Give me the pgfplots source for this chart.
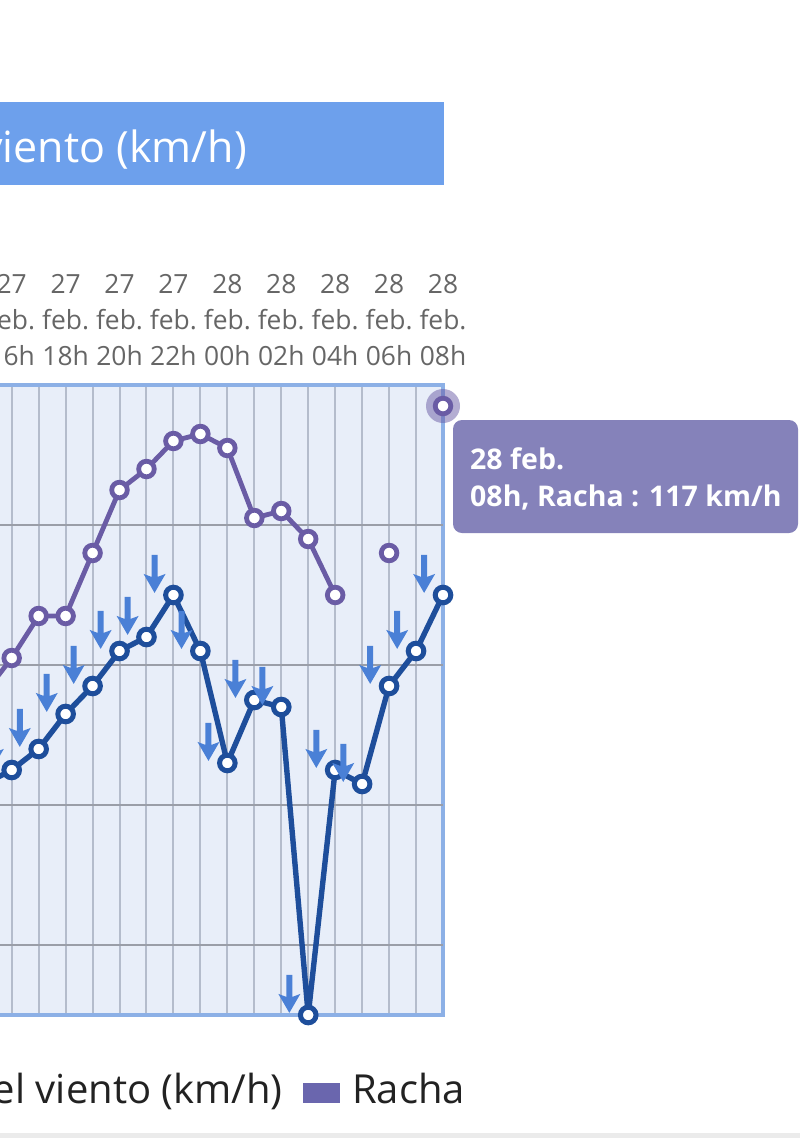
\documentclass[border=0pt]{standalone}
\usepackage{fontspec}
\setmainfont{Open Sans}
\usepackage{pgfplots}
\pgfplotsset{compat=1.18}
\usepackage{pgfplotstable}

\definecolor{velc}{HTML}{1E4E9B}
\definecolor{rachac}{HTML}{6A5CA5}
\definecolor{arrowc}{HTML}{4A80D6}
\definecolor{bannerc}{HTML}{6DA0EC}
\definecolor{tipc}{HTML}{8582BA}
\definecolor{swatchc}{HTML}{6A66AE}
\definecolor{bgc}{HTML}{E8EEF9}
\definecolor{vgridc}{HTML}{B4BCCC}
\definecolor{hgridc}{HTML}{9A9EA8}
\definecolor{borderc}{HTML}{8CB0E6}
\definecolor{tickc}{HTML}{666666}
\definecolor{legc}{HTML}{222222}

\pgfdeclareplotmark{windarrow}{%
  \pgfpathmoveto{\pgfpoint{0bp}{0bp}}%
  \pgfpathlineto{\pgfpoint{-11bp}{19bp}}%
  \pgfpathlineto{\pgfpoint{-3bp}{16bp}}%
  \pgfpathlineto{\pgfpoint{-3bp}{38bp}}%
  \pgfpathlineto{\pgfpoint{3bp}{38bp}}%
  \pgfpathlineto{\pgfpoint{3bp}{16bp}}%
  \pgfpathlineto{\pgfpoint{11bp}{19bp}}%
  \pgfpathclose
  \pgfusepathqfill}

\pgfplotstableread{
h vel racha
15 63 76
16 65 81
17 68 87
18 73 87
19 77 96
20 82 105
21 84 108
22 90 112
23 82 113
24 66 111
25 75 101
26 74 102
27 30 98
28 65 90
29 63 nan
30 77 96
31 82 nan
32 90 117
}\windtable

\begin{document}
\begin{tikzpicture}
% title banner
\fill[bannerc] (-5bp,-102bp) rectangle (444bp,-185bp);
\node[anchor=base east, text=white, inner sep=0pt,
      font=\fontsize{43bp}{50bp}\selectfont] at (247bp,-162bp) {Velocidad del viento (km/h)};

\begin{axis}[
  at={(-15.26bp,-1015bp)}, anchor=south west,
  scale only axis, width=458.26bp, height=630bp,
  xmin=15, xmax=32, ymin=30, ymax=120,
  axis background/.style={fill=bgc},
  axis line style={draw=borderc, line width=3.5bp},
  xtick={16,17,...,32},
  xticklabels={{27\\feb.\\16h},{},{27\\feb.\\18h},{},{27\\feb.\\20h},{},{27\\feb.\\22h},{},
               {28\\feb.\\00h},{},{28\\feb.\\02h},{},{28\\feb.\\04h},{},{28\\feb.\\06h},{},{28\\feb.\\08h}},
  xticklabel pos=upper,
  xticklabel style={align=center, anchor=south, inner sep=0pt, text=tickc,
                    font=\fontsize{26.4bp}{36bp}\selectfont, yshift=19bp},
  ytick=\empty,
  extra y ticks={40,60,80,100},
  extra y tick labels={},
  extra y tick style={grid=major, major grid style={line width=2bp, draw=hgridc}},
  tick style={draw=none},
  xmajorgrids,
  grid style={line width=2bp, draw=vgridc},
  clip=false,
  unbounded coords=jump,
]
% highlighted point halo
\addplot[only marks, color=rachac, mark=*, mark size=17bp,
  mark options={fill=rachac, fill opacity=0.5, draw opacity=0}] coordinates {(32,117)};
% Racha
\addplot[rachac, line width=4.8bp, mark=*, mark size=7.8bp,
  mark options={fill=white, draw=rachac, line width=4.8bp}]
  table[x=h, y=racha]{\windtable};
% Velocidad
\addplot[velc, line width=5.4bp, mark=*, mark size=7.8bp,
  mark options={fill=white, draw=velc, line width=5bp}]
  table[x=h, y=vel]{\windtable};
% wind direction arrows
\addplot[only marks, mark=windarrow, mark options={fill=arrowc, draw=none}]
  table[x expr=\thisrow{h}-0.7, y expr=\thisrow{vel}+0.3]{\windtable};
\end{axis}

% tooltip
\fill[tipc, rounded corners=9bp] (453bp,-420bp) rectangle (798bp,-533bp);
\node[anchor=base west, text=white, inner sep=0pt,
      font=\bfseries\fontsize{28.5bp}{32bp}\selectfont] at (470bp,-469bp) {28 feb.};
\node[anchor=base west, text=white, inner sep=0pt,
      font=\bfseries\fontsize{28.5bp}{32bp}\selectfont] at (470bp,-506bp) {08h, Racha : 117 km/h};

% legend
\node[anchor=base east, text=legc, inner sep=0pt,
      font=\fontsize{40bp}{48bp}\selectfont] at (283bp,-1103bp) {Velocidad del viento (km/h)};
\fill[swatchc] (303bp,-1083bp) rectangle (340bp,-1103bp);
\node[anchor=base west, text=legc, inner sep=0pt,
      font=\fontsize{40bp}{48bp}\selectfont] at (352bp,-1103bp) {Racha};

% bottom stripe
\fill[black!8] (0,-1133bp) rectangle (800bp,-1138bp);

\pgfresetboundingbox
\useasboundingbox (0,0) rectangle (800bp,-1138bp);
\end{tikzpicture}
\end{document}
